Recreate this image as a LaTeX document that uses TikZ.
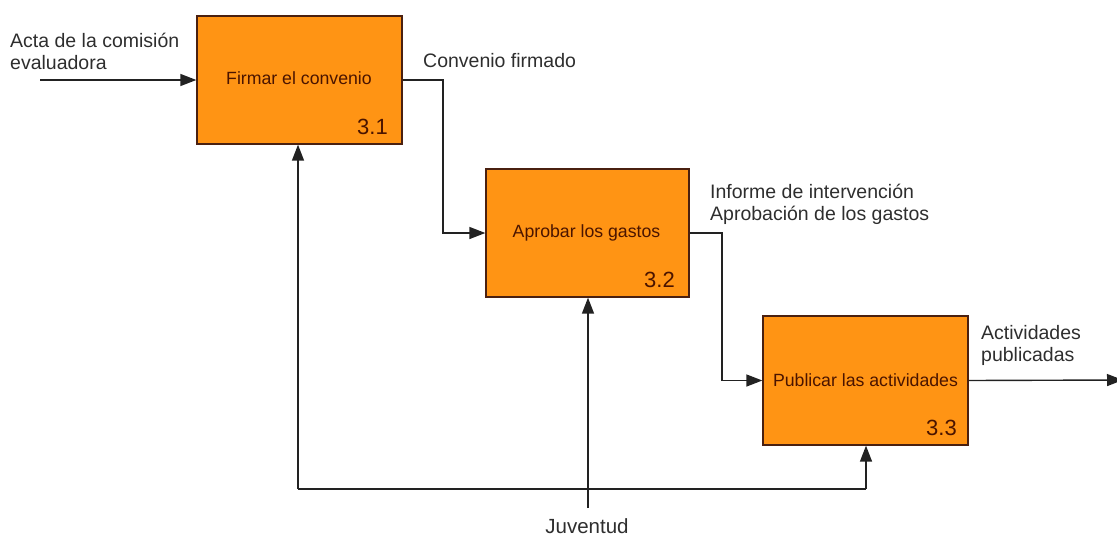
\documentclass[tikz,border=0pt]{standalone}
\usepackage{fontspec}
\setmainfont{Liberation Sans}
\usetikzlibrary{arrows.meta}
\definecolor{boxfill}{HTML}{FF9414}
\definecolor{boxline}{HTML}{4A2010}
\definecolor{boxtext}{HTML}{4A1400}
\definecolor{lbltext}{HTML}{2E2E2E}
\definecolor{linecol}{HTML}{222222}
\begin{document}
\begin{tikzpicture}[x=1pt,y=-1pt,
  procbox/.style={draw=boxline,line width=1.3pt,fill=boxfill,rectangle,inner sep=0pt},
  arr/.style={draw=linecol,line width=1.4pt,-{Triangle[length=16pt,width=12pt]}},
  plain/.style={draw=linecol,line width=1.4pt},
  lbl/.style={font=\fontsize{19.5}{22}\selectfont,text=lbltext,align=left,inner sep=0pt,anchor=base west},
  boxlbl/.style={font=\fontsize{17.7}{20}\selectfont,text=boxtext,inner sep=0pt,anchor=base},
  num/.style={font=\fontsize{22}{24}\selectfont,text=boxtext,inner sep=0pt,anchor=base east}]
\useasboundingbox (0,0) rectangle (1117,536);
% boxes
\node[procbox,minimum width=205pt,minimum height=128pt] (b1) at (299.5,80) {};
\node[procbox,minimum width=203pt,minimum height=128pt] (b2) at (587.5,233) {};
\node[procbox,minimum width=205pt,minimum height=129pt] (b3) at (865.5,380.5) {};
\node[boxlbl] (t1) at (299,84) {Firmar el convenio};
\node[boxlbl] (t2) at (586.5,237) {Aprobar los gastos};
\node[boxlbl] (t3) at (865.5,386) {Publicar las actividades};
\node[num] (n1) at (388,134) {3.1};
\node[num] (n2) at (675,287) {3.2};
\node[num] (n3) at (957,435) {3.3};
% labels (base anchor = baseline of last line)
\node[lbl] (l1) at (10,69) {Acta de la comisión\\evaluadora};
\node[lbl] (l2) at (423,67) {Convenio firmado};
\node[lbl] (l3) at (710,220) {Informe de intervención\\Aprobación de los gastos};
\node[lbl] (l4) at (981,361) {Actividades\\publicadas};
\node[font=\fontsize{20.5}{22}\selectfont,text=lbltext,inner sep=0pt,anchor=base] (juv) at (587,533) {Juventud};
% coordinates
\coordinate (in) at (40,80);
\coordinate (out) at (1123,380);
\coordinate (c1) at (443,80);
\coordinate (c2) at (722,233);
\coordinate (jl) at (298,489);
\coordinate (jr) at (866,489);
\coordinate (jb) at (588,508);
% connectors
\draw[arr] (in) -- (b1.west);
\draw[arr] (b1.east) -- (c1) |- (b2.west);
\draw[arr] (b2.east) -- (c2) |- (b3.west);
\draw[arr] (b3.east) -- (out);
\draw[arr] (jb) -- (jb |- b2.south);
\draw[plain] (jl) -- (jr);
\draw[arr] (jl) -- (jl |- b1.south);
\draw[arr] (jr) -- (jr |- b3.south);
\end{tikzpicture}
\end{document}
